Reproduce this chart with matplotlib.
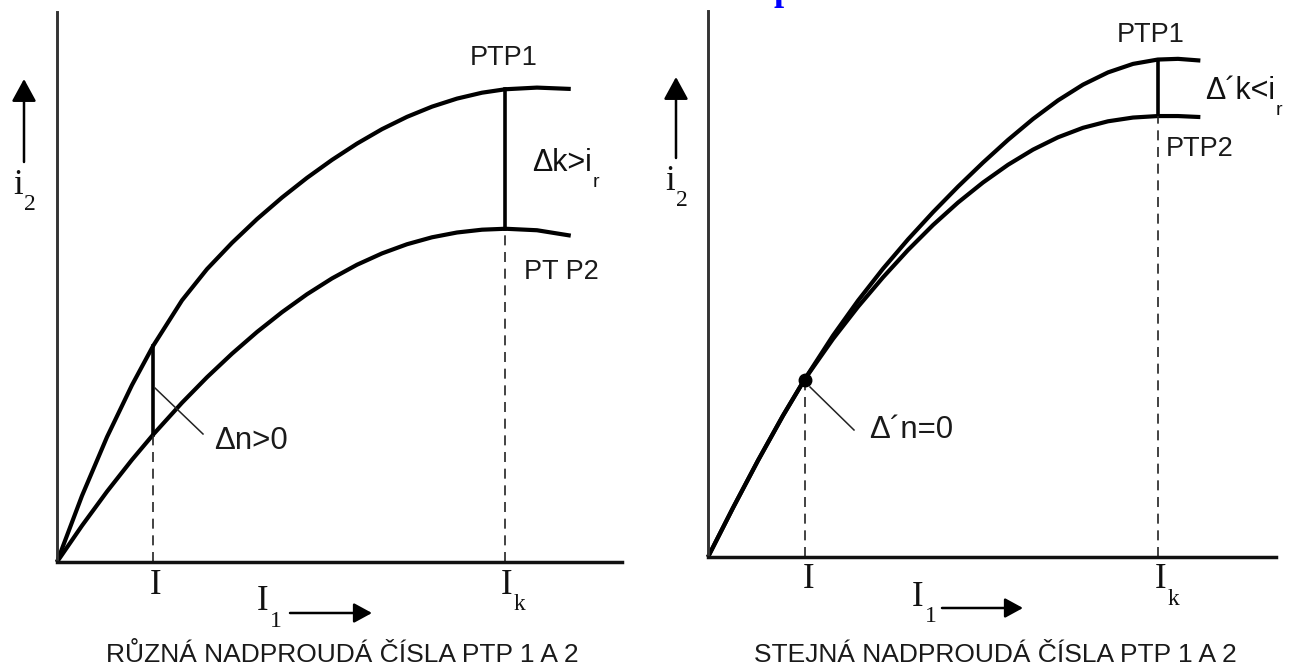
"""Two schematic current-transformer characteristics (PTP1 vs PTP2)."""
import matplotlib
matplotlib.use("Agg")
import matplotlib.pyplot as plt

W, H = 1296, 669
SANS = "Liberation Sans"
SERIF = "Liberation Serif"

# ── data (I1 on x, i2 on y, arbitrary units) ──
LEFT_I1 = [0.0, 0.5, 1.0, 1.5, 1.924, 2.5, 3.0, 3.5, 4.0, 4.5, 5.0, 5.5,
           6.0, 6.5, 7.0, 7.5, 8.0, 8.5, 8.969, 9.6, 10.275]
LEFT_PTP1 = [0.0, 1.325, 2.50, 3.539, 4.325, 5.233, 5.858, 6.383, 6.858,
             7.289, 7.683, 8.042, 8.368, 8.657, 8.903, 9.107, 9.268, 9.386,
             9.455, 9.488, 9.461]
LEFT_PTP2 = [0.0, 0.727, 1.409, 2.045, 2.549, 3.185, 3.695, 4.166, 4.600,
             4.996, 5.355, 5.672, 5.945, 6.172, 6.355, 6.494, 6.590, 6.646,
             6.665, 6.635, 6.527]

RIGHT_I1 = [0.0, 0.5, 1.0, 1.5, 1.931, 2.5, 3.0, 3.5, 4.0, 4.5, 5.0, 5.5,
            6.0, 6.5, 7.0, 7.5, 8.0, 8.5, 8.996, 9.4, 9.847]
RIGHT_PTP1 = [0.0, 0.983, 1.930, 2.828, 3.550, 4.428, 5.127, 5.766, 6.352,
              6.896, 7.407, 7.888, 8.342, 8.760, 9.132, 9.447, 9.692, 9.862,
              9.949, 9.963, 9.929]
RIGHT_PTP2 = [0.0, 0.983, 1.930, 2.828, 3.550, 4.361, 5.004, 5.593, 6.139,
              6.639, 7.089, 7.490, 7.844, 8.147, 8.394, 8.584, 8.714, 8.789,
              8.819, 8.819, 8.799]

I_IDX, IK_IDX = 4, 18      # where I and I_k sit in the arrays above

CAPTIONS = ["RŮZNÁ NADPROUDÁ ČÍSLA PTP 1 A 2",
            "STEJNÁ NADPROUDÁ ČÍSLA PTP 1 A 2"]


def frame(ax, xmax, ymax):
    ax.set_xlim(0, xmax)
    ax.set_ylim(0, ymax)
    for s in ("top", "right"):
        ax.spines[s].set_visible(False)
    ax.spines["left"].set_linewidth(2.1)
    ax.spines["left"].set_color("#333")
    ax.spines["bottom"].set_linewidth(2.5)
    ax.spines["bottom"].set_color("#111")
    ax.set_xticks([])
    ax.set_yticks([])
    ax.patch.set_alpha(0)


def sub_label(ax, x, y, main, sub, size=25, sub_size=17, family=SERIF,
              dx=0.5, dy=-2, ha="center"):
    t = ax.text(x, y, main, fontsize=size, family=family, ha=ha, va="center",
                color="#111")
    ax.annotate(sub, xy=(1, 0), xycoords=t, xytext=(dx, dy),
                textcoords="offset points", fontsize=sub_size, family=family,
                ha="left", va="center", color="#111")
    return t


fig = plt.figure(figsize=(W / 100, H / 100), dpi=100)

CURVE = dict(color="black", lw=3.0, solid_capstyle="butt",
             solid_joinstyle="round", clip_on=False)
DASH = dict(color="#222", lw=1.2, ls=(0, (6, 4)), clip_on=False)
BAR = dict(color="black", lw=2.6, clip_on=False)

# ── left panel ───────────────────────────────────────────
axl = fig.add_axes([57 / W, (H - 562) / H, 565 / W, 550 / H])
frame(axl, 11.3, 11.0)
axl.plot(LEFT_I1, LEFT_PTP1, **CURVE)
axl.plot(LEFT_I1, LEFT_PTP2, **CURVE)
for i in (I_IDX, IK_IDX):
    x = LEFT_I1[i]
    axl.plot([x, x], [LEFT_PTP2[i], LEFT_PTP1[i]], **BAR)
    axl.plot([x, x], [0, LEFT_PTP2[i]], **DASH)

# ── right panel ──────────────────────────────────────────
axr = fig.add_axes([708 / W, (H - 557) / H, 568 / W, 546 / H])
frame(axr, 11.36, 10.92)
axr.plot(RIGHT_I1, RIGHT_PTP1, **CURVE)
axr.plot(RIGHT_I1, RIGHT_PTP2, **CURVE)
xi = RIGHT_I1[I_IDX]
axr.plot([xi, xi], [0, RIGHT_PTP1[I_IDX]], **DASH)
axr.plot([xi], [RIGHT_PTP1[I_IDX]], "o", color="black", ms=9,
         clip_on=False, zorder=5)
xk = RIGHT_I1[IK_IDX]
axr.plot([xk, xk], [RIGHT_PTP2[IK_IDX], RIGHT_PTP1[IK_IDX]], **BAR)
axr.plot([xk, xk], [0, RIGHT_PTP2[IK_IDX]], **DASH)

# ── annotation layer in pixel coordinates ────────────────
ov = fig.add_axes([0, 0, 1, 1])
ov.set_xlim(0, W)
ov.set_ylim(H, 0)
ov.axis("off")
ov.patch.set_alpha(0)

txt = dict(family=SANS, color="#1a1a1a", va="center")

# cut-off blue heading glyph at the very top
ov.text(773, 0, "p", family=SERIF, weight="bold", fontsize=26,
        color="#0000ff", ha="left", va="baseline")

# left labels
ov.text(504, 58, "PTP1", fontsize=19.5, ha="center", **txt)
sub_label(ov, 532, 163, "Δk>i", "r", size=22, sub_size=14, family=SANS,
          ha="left", dy=-3)
ov.text(561, 272, "PT P2", fontsize=19.5, ha="center", **txt)
ov.plot([155, 203], [388, 434], color="#222", lw=1.1)
ov.text(214, 441, "Δn>0", fontsize=22.5, ha="left", **txt)

# right labels
ov.text(1151, 35, "PTP1", fontsize=19.5, ha="center", **txt)
sub_label(ov, 1205, 91, "Δ´k<i", "r", size=22, sub_size=14, family=SANS,
          ha="left", dy=-3)
ov.text(1166, 149, "PTP2", fontsize=19.5, ha="left", **txt)
ov.plot([810, 854], [387, 430], color="#222", lw=1.1)
ov.text(869, 430, "Δ´n=0", fontsize=22.5, ha="left", **txt)

# axis markers
ov.text(156, 585, "I", fontsize=25, family=SERIF, ha="center", va="center",
        color="#111")
sub_label(ov, 507, 585, "I", "k")
ov.text(809, 580, "I", fontsize=25, family=SERIF, ha="center", va="center",
        color="#111")
sub_label(ov, 1161, 580, "I", "k")

ARROW = "-|>,head_length=0.55,head_width=0.3"
for x_name, y_name, x0, x1 in ((263, 602, 290, 372), (918, 597, 942, 1023)):
    sub_label(ov, x_name, y_name, "I", "1")
    ov.annotate("", xy=(x1, y_name + 11), xytext=(x0, y_name + 11),
                arrowprops=dict(arrowstyle=ARROW, mutation_scale=20, lw=1.8,
                                color="black", shrinkA=0, shrinkB=0))

# i2 arrows
for ax_x, top, bot, ly in ((24, 79, 162, 185), (676, 77, 158, 181)):
    ov.annotate("", xy=(ax_x, top), xytext=(ax_x, bot),
                arrowprops=dict(arrowstyle=ARROW, mutation_scale=25, lw=1.8,
                                color="black", shrinkA=0, shrinkB=0))
    sub_label(ov, ax_x - 6, ly, "i", "2")

ov.text(342, 655, CAPTIONS[0], fontsize=19, ha="center", **txt)
ov.text(995, 655, CAPTIONS[1], fontsize=19, ha="center", **txt)

fig.savefig("out.png", dpi=100)
